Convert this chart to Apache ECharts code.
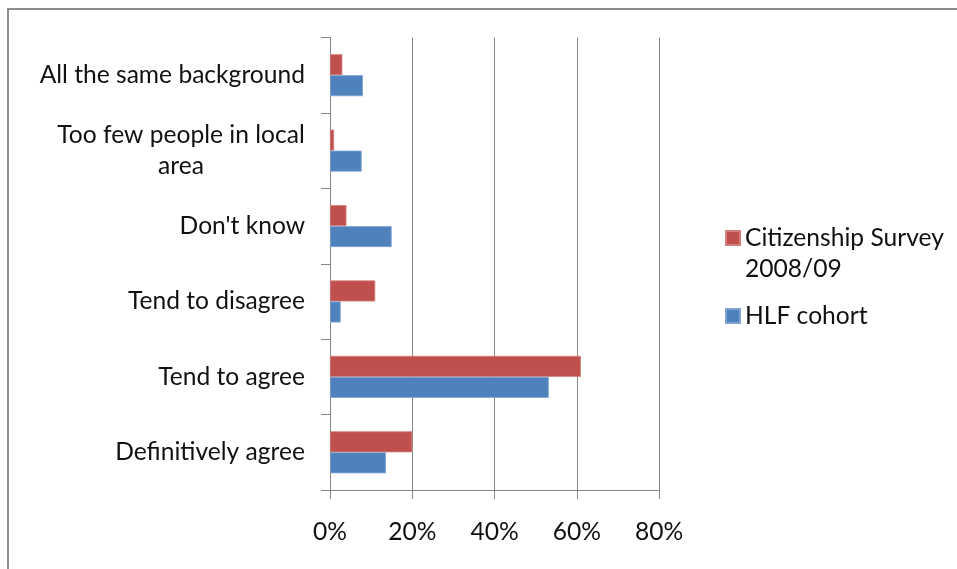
<!DOCTYPE html>
<html>
<head>
<meta charset="utf-8">
<script src="https://cdn.jsdelivr.net/npm/echarts@6/dist/echarts.min.js"></script>
<style>
  html, body { margin: 0; padding: 0; background: #ffffff; }
  #chart { width: 957px; height: 569px; }
</style>
</head>
<body>
<div id="chart"></div>
<script>
// Categories listed top to bottom; "\n" marks a wrapped label.
const categories = [
  'All the same background',
  'Too few people in local\narea',
  "Don't know",
  'Tend to disagree',
  'Tend to agree',
  'Definitively agree'
];
const seriesNames = ['Citizenship Survey 2008/09', 'HLF cohort'];
const citizenshipSurvey = [3, 1, 4, 11, 61, 20];
const hlfCohort = [8, 7.7, 15, 2.6, 53.2, 13.6];
const xTicks = [0, 20, 40, 60, 80];

const FONT = 'Lato';
const FONT_SIZE = 24.6;
const LINE_H = 31;
const TEXT_COLOR = '#111111';
const AXIS_GREY = '#868686';

// Measure text so wrapped labels can be centred line by line.
const measureCtx = document.createElement('canvas').getContext('2d');
measureCtx.font = FONT_SIZE + 'px ' + FONT;
function textWidth(s) { return Math.ceil(measureCtx.measureText(s).width); }

function categoryLabel(value) {
  const lines = value.split('\n');
  if (lines.length === 1) return value;
  return lines.map(l => '{c|' + l + '}').join('\n');
}
const wrapWidth = Math.max(...categories.filter(c => c.includes('\n'))
  .map(c => Math.max(...c.split('\n').map(textWidth))));

// Legend entry for the first series wraps onto two lines; an empty leading
// line keeps the swatch level with the first line of text.
function legendLabel(name) {
  return name === seriesNames[0] ? ' \nCitizenship Survey\n2008/09' : name;
}

const chart = echarts.init(document.getElementById('chart'), null, { renderer: 'canvas' });

chart.setOption({
  backgroundColor: '#ffffff',
  animation: false,
  textStyle: { fontFamily: FONT },
  graphic: [{
    type: 'rect',
    shape: { x: 8, y: 9, width: 1200, height: 800 },
    style: { fill: null, stroke: '#8c8c8c', lineWidth: 2 },
    silent: true,
    z: -1
  }],
  grid: { left: 330, right: 298, top: 37.5, bottom: 79, containLabel: false },
  legend: {
    orient: 'vertical',
    left: 725,
    top: 191.5,
    padding: 0,
    itemWidth: 14,
    itemHeight: 14,
    itemGap: 16,
    icon: 'rect',
    formatter: legendLabel,
    textStyle: { fontFamily: FONT, fontSize: FONT_SIZE, color: TEXT_COLOR, lineHeight: LINE_H },
    data: seriesNames
  },
  xAxis: {
    type: 'value',
    min: xTicks[0],
    max: xTicks[xTicks.length - 1],
    interval: xTicks[1] - xTicks[0],
    axisLine: { show: true, lineStyle: { color: AXIS_GREY, width: 1 } },
    axisTick: { show: true, length: 9, lineStyle: { color: AXIS_GREY } },
    splitLine: { show: true, lineStyle: { color: AXIS_GREY, width: 1 } },
    axisLabel: {
      formatter: v => v + '%',
      fontFamily: FONT, fontSize: FONT_SIZE, color: TEXT_COLOR, margin: 30
    }
  },
  yAxis: {
    type: 'category',
    inverse: true,
    data: categories,
    axisLine: { show: true, lineStyle: { color: AXIS_GREY, width: 1 } },
    axisTick: { show: true, length: 9, lineStyle: { color: AXIS_GREY } },
    axisLabel: {
      formatter: categoryLabel,
      fontFamily: FONT, fontSize: FONT_SIZE, color: TEXT_COLOR, margin: 25,
      lineHeight: LINE_H,
      rich: {
        c: { width: wrapWidth, align: 'center', fontFamily: FONT, fontSize: FONT_SIZE,
             color: TEXT_COLOR, lineHeight: LINE_H }
      }
    }
  },
  series: [
    {
      name: seriesNames[0],
      type: 'bar',
      data: citizenshipSurvey,
      barWidth: 21,
      barGap: '0%',
      itemStyle: { color: '#C0504D', borderColor: '#d47d7a', borderWidth: 0.8 }
    },
    {
      name: seriesNames[1],
      type: 'bar',
      data: hlfCohort,
      barWidth: 21,
      barGap: '0%',
      itemStyle: { color: '#4F81BD', borderColor: '#7fa3d1', borderWidth: 0.8 }
    }
  ]
});
</script>
</body>
</html>
